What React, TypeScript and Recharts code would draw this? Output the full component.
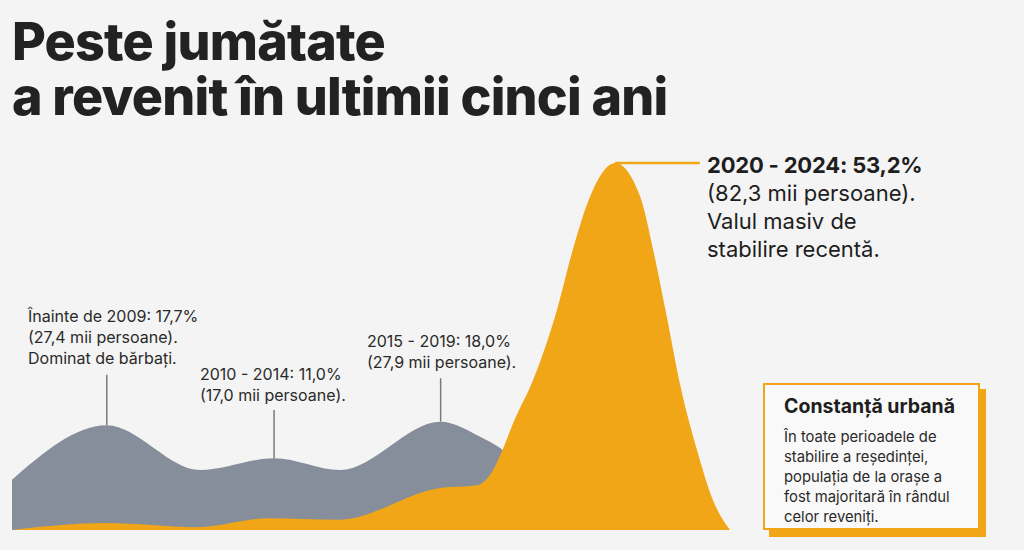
import { AreaChart, Area, XAxis, YAxis, ReferenceLine } from 'recharts';

// shape readings along the timeline (0 = left edge, 100 = end of the last wave)
const grayX = [0, 13.2, 26.2, 36.5, 45.7, 59.7, 65.2, 69, 74, 78];
const grayY = [7.3, 15.2, 8.7, 10.4, 8.7, 15.7, 13.5, 11, 4, 0];

const orangeX = [0, 13.2, 25.6, 35.7, 45.5, 59.6, 64.8, 67, 68.2, 69.8, 72.6, 75.9, 78.1, 80.5, 84, 87.5, 89.3, 91.2, 93, 95.4, 97.6, 100];
const orangeY = [0, 1.0, 0.4, 1.7, 1.5, 6.1, 6.5, 8.7, 11.3, 15.5, 21.8, 31.9, 40.6, 48.3, 53.2, 48.3, 40.6, 30.9, 21.3, 11.6, 4.4, 0];

const periods = ['Înainte de 2009', '2010 - 2014', '2015 - 2019', '2020 - 2024'];
const shares = ['17,7%', '11,0%', '18,0%', '53,2%'];
const persons = ['27,4', '17,0', '27,9', '82,3'];
const peakX = [13.2, 36.5, 59.7, 84];
const peakY = [15.2, 10.4, 15.7, 53.2];
const leaderTop = [22.5, 17.4, 22.0];

const titleLines = ['Peste jumătate', 'a revenit în ultimii cinci ani'];

const GRAY = '#868e9b';
const ORANGE = '#f0a616';
const INK = '#1e1e1e';

const xs = Array.from(new Set([...grayX, ...orangeX])).sort((a, b) => a - b);
const rows = xs.map((x) => {
  const gi = grayX.indexOf(x);
  const oi = orangeX.indexOf(x);
  return { x, gray: gi >= 0 ? grayY[gi] : null, orange: oi >= 0 ? orangeY[oi] : null };
});

const font = 'Inter, "Noto Sans", sans-serif';

const note = (left: number, top: number): React.CSSProperties => ({
  position: 'absolute',
  left,
  top,
  fontSize: 16,
  lineHeight: '21px',
  color: '#2a2a2a',
  whiteSpace: 'nowrap',
});

export default function App() {
  return (
    <div
      style={{
        position: 'absolute',
        left: 0,
        top: 0,
        width: 1024,
        height: 550,
        background: '#f4f4f4',
        fontFamily: font,
        overflow: 'hidden',
      }}
    >
      {titleLines.map((t, i) => (
        <div
          key={t}
          style={{
            position: 'absolute',
            left: 12,
            top: 16 + i * 55,
            fontSize: 52,
            lineHeight: '52px',
            fontWeight: 800,
            letterSpacing: -0.8,
            color: '#222',
            whiteSpace: 'nowrap',
          }}
        >
          {t}
        </div>
      ))}

      <div style={{ position: 'absolute', left: 0, top: 0 }}>
        <AreaChart
          width={1024}
          height={550}
          data={rows}
          margin={{ top: 163, left: 12, right: 294, bottom: 20 }}
        >
          <XAxis type="number" dataKey="x" domain={[0, 100]} hide />
          <YAxis type="number" domain={[0, 53.2]} hide />
          <Area
            type="monotone"
            dataKey="gray"
            stroke="none"
            fill={GRAY}
            fillOpacity={1}
            connectNulls
            isAnimationActive={false}
          />
          <Area
            type="monotone"
            dataKey="orange"
            stroke="none"
            fill={ORANGE}
            fillOpacity={1}
            connectNulls
            isAnimationActive={false}
          />
          {leaderTop.map((t, i) => (
            <ReferenceLine
              key={periods[i]}
              segment={[
                { x: peakX[i], y: peakY[i] },
                { x: peakX[i], y: t },
              ]}
              stroke="#7a7a7a"
              strokeWidth={1.5}
            />
          ))}
          <ReferenceLine
            segment={[
              { x: peakX[3], y: peakY[3] },
              { x: 95.8, y: peakY[3] },
            ]}
            stroke={ORANGE}
            strokeWidth={2.5}
          />
        </AreaChart>
      </div>

      <div style={note(28, 306)}>
        {periods[0]}: {shares[0]}
        <br />({persons[0]} mii persoane).
        <br />Dominat de bărbați.
      </div>
      <div style={note(200, 364)}>
        {periods[1]}: {shares[1]}
        <br />({persons[1]} mii persoane).
      </div>
      <div style={note(367, 331)}>
        {periods[2]}: {shares[2]}
        <br />({persons[2]} mii persoane).
      </div>

      <div
        style={{
          position: 'absolute',
          left: 707,
          top: 151,
          fontSize: 22,
          lineHeight: '28px',
          color: INK,
          whiteSpace: 'nowrap',
        }}
      >
        <span style={{ fontWeight: 700, letterSpacing: -0.2 }}>
          {periods[3]}: {shares[3]}
        </span>
        <br />({persons[3]} mii persoane).
        <br />Valul masiv de
        <br />stabilire recentă.
      </div>

      <div
        style={{
          position: 'absolute',
          left: 769,
          top: 389,
          width: 217,
          height: 148,
          background: ORANGE,
        }}
      />
      <div
        style={{
          position: 'absolute',
          left: 763,
          top: 383,
          width: 213,
          height: 143,
          background: '#f9f9f9',
          border: `2px solid ${ORANGE}`,
          color: INK,
          boxSizing: 'content-box',
        }}
      >
        <div
          style={{
            position: 'absolute',
            left: 19,
            top: 9,
            fontSize: 19.5,
            fontWeight: 700,
            whiteSpace: 'nowrap',
          }}
        >
          Constanță urbană
        </div>
        <div
          style={{
            position: 'absolute',
            left: 19,
            top: 42,
            fontSize: 14.8,
            lineHeight: '20px',
            color: '#2a2a2a',
            whiteSpace: 'nowrap',
          }}
        >
          În toate perioadele de
          <br />stabilire a reședinței,
          <br />populația de la orașe a
          <br />fost majoritară în rândul
          <br />celor reveniți.
        </div>
      </div>
    </div>
  );
}
